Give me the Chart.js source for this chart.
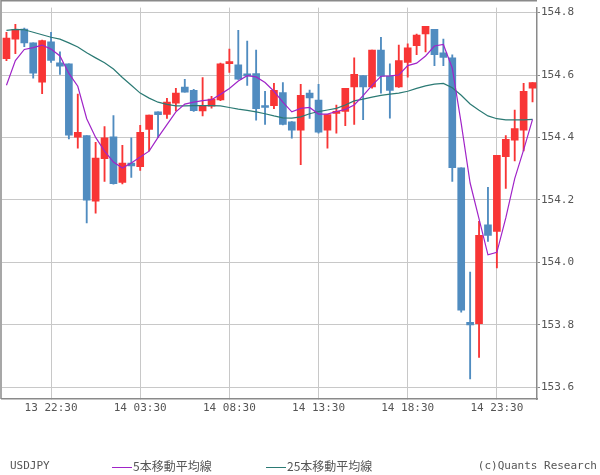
<!DOCTYPE html>
<html>
<head>
<meta charset="utf-8">
<script src="https://cdn.jsdelivr.net/npm/chart.js@4.4.1/dist/chart.umd.min.js"></script>
<style>
body { margin: 0; background: #fff; }
#wrap { position: relative; width: 600px; height: 475px; }
#chart { position: absolute; left: 0; top: 0; }
.foot { position: absolute; top: 458px; font: 11px "DejaVu Sans Mono", monospace; color: #555; white-space: nowrap; line-height: 16px; }
.jp { font-family: "Noto Sans CJK JP", sans-serif; font-size: 12px; }
.swatch { display: inline-block; width: 20px; height: 1px; vertical-align: middle; margin-right: 1px; }
</style>
</head>
<body>
<div id="wrap">
  <canvas id="chart" width="600" height="475"></canvas>
  <div class="foot" style="left:10px">USDJPY</div>
  <div class="foot jp" style="left:112px"><span class="swatch" style="background:#a024c8"></span>5本移動平均線</div>
  <div class="foot jp" style="left:266px"><span class="swatch" style="background:#2b7a74"></span>25本移動平均線</div>
  <div class="foot" style="right:3px">(c)Quants Research</div>
</div>
<script>
const categories = [
  '13 20:00','13 20:30','13 21:00','13 21:30','13 22:00','13 22:30','13 23:00','13 23:30',
  '14 00:00','14 00:30','14 01:00','14 01:30','14 02:00','14 02:30','14 03:00','14 03:30',
  '14 04:00','14 04:30','14 05:00','14 05:30','14 06:00','14 06:30','14 07:00','14 07:30',
  '14 08:00','14 08:30','14 09:00','14 09:30','14 10:00','14 10:30','14 11:00','14 11:30',
  '14 12:00','14 12:30','14 13:00','14 13:30','14 14:00','14 14:30','14 15:00','14 15:30',
  '14 16:00','14 16:30','14 17:00','14 17:30','14 18:00','14 18:30','14 19:00','14 19:30',
  '14 20:00','14 20:30','14 21:00','14 21:30','14 22:00','14 22:30','14 23:00','14 23:30',
  '15 00:00','15 00:30','15 01:00','15 01:30'
];
const tickLabels = ['13 22:30', '14 03:30', '14 08:30', '14 13:30', '14 18:30', '14 23:30'];
const yTicks = [153.6, 153.8, 154.0, 154.2, 154.4, 154.6, 154.8];
const yMin = 153.562, yMax = 154.816;

const opens = [
  154.652, 154.715, 154.747, 154.703, 154.577, 154.706, 154.639, 154.636, 154.401, 154.406,
  154.196, 154.332, 154.402, 154.256, 154.318, 154.306, 154.426, 154.482, 154.474, 154.510,
  154.561, 154.551, 154.485, 154.500, 154.520, 154.636, 154.633, 154.600, 154.605, 154.499,
  154.502, 154.544, 154.450, 154.423, 154.542, 154.520, 154.423, 154.477, 154.483, 154.562,
  154.598, 154.562, 154.680, 154.596, 154.562, 154.640, 154.694, 154.732, 154.746, 154.671,
  154.655, 154.303, 153.808, 153.803, 154.120, 154.099, 154.338, 154.391, 154.423, 154.558
];
const highs = [
  154.737, 154.762, 154.750, 154.703, 154.712, 154.737, 154.674, 154.636, 154.539, 154.406,
  154.384, 154.435, 154.470, 154.375, 154.399, 154.439, 154.472, 154.482, 154.525, 154.557,
  154.586, 154.554, 154.592, 154.532, 154.638, 154.683, 154.743, 154.709, 154.680, 154.548,
  154.573, 154.576, 154.451, 154.570, 154.552, 154.570, 154.474, 154.504, 154.557, 154.655,
  154.598, 154.680, 154.721, 154.636, 154.696, 154.700, 154.731, 154.756, 154.746, 154.715,
  154.665, 154.303, 153.969, 154.131, 154.240, 154.343, 154.406, 154.488, 154.573, 154.576
];
const lows = [
  154.646, 154.668, 154.691, 154.590, 154.540, 154.640, 154.602, 154.395, 154.366, 154.126,
  154.157, 154.259, 154.250, 154.251, 154.272, 154.294, 154.357, 154.399, 154.461, 154.485,
  154.545, 154.483, 154.469, 154.494, 154.518, 154.608, 154.586, 154.567, 154.455, 154.442,
  154.492, 154.440, 154.398, 154.313, 154.461, 154.414, 154.366, 154.414, 154.438, 154.442,
  154.457, 154.558, 154.542, 154.462, 154.560, 154.593, 154.665, 154.674, 154.630, 154.630,
  154.259, 153.840, 153.626, 153.695, 154.067, 153.982, 154.237, 154.325, 154.357, 154.514
];
const closes = [
  154.718, 154.746, 154.703, 154.606, 154.710, 154.647, 154.628, 154.407, 154.416, 154.199,
  154.334, 154.399, 154.252, 154.318, 154.309, 154.416, 154.472, 154.473, 154.513, 154.542,
  154.545, 154.486, 154.502, 154.523, 154.636, 154.643, 154.587, 154.597, 154.492, 154.496,
  154.551, 154.442, 154.423, 154.535, 154.527, 154.417, 154.473, 154.483, 154.557, 154.602,
  154.562, 154.680, 154.596, 154.551, 154.646, 154.687, 154.728, 154.756, 154.665, 154.656,
  154.303, 153.847, 153.799, 154.086, 154.086, 154.343, 154.394, 154.428, 154.548, 154.576
];
const ma5 = [
  154.567, 154.646, 154.682, 154.688, 154.696, 154.683, 154.661, 154.605, 154.564, 154.460,
  154.400, 154.356, 154.321, 154.302, 154.318, 154.337, 154.356, 154.400, 154.441, 154.482,
  154.507, 154.513, 154.518, 154.521, 154.538, 154.557, 154.581, 154.598, 154.594, 154.576,
  154.548, 154.513, 154.482, 154.493, 154.496, 154.475, 154.475, 154.483, 154.490, 154.504,
  154.534, 154.567, 154.596, 154.597, 154.600, 154.630, 154.638, 154.661, 154.693, 154.698,
  154.622, 154.445, 154.254, 154.139, 154.024, 154.032, 154.142, 154.268, 154.360, 154.458
];
const ma25 = [
  154.743, 154.746, 154.745, 154.737, 154.729, 154.721, 154.715, 154.703, 154.690, 154.671,
  154.655, 154.639, 154.619, 154.592, 154.567, 154.542, 154.526, 154.513, 154.506, 154.501,
  154.501, 154.502, 154.502, 154.502, 154.501, 154.496, 154.491, 154.487, 154.482, 154.476,
  154.469, 154.463, 154.462, 154.466, 154.476, 154.483, 154.488, 154.493, 154.504, 154.517,
  154.523, 154.529, 154.535, 154.539, 154.542, 154.548, 154.557, 154.565, 154.571, 154.573,
  154.559, 154.535, 154.507, 154.487, 154.469, 154.460, 154.456, 154.456, 154.456, 154.458
];

const UP = '#f83535', DOWN = '#508cc0';
const candleColors = opens.map((o, i) => closes[i] >= o ? UP : DOWN);
const tickFont = { family: 'DejaVu Sans Mono', size: 11 };

// frame on the left and top of the plot
const framePlugin = {
  id: 'frame',
  afterDraw(chart) {
    const { ctx, chartArea: a } = chart;
    ctx.save();
    ctx.strokeStyle = '#8a8a8a';
    ctx.lineWidth = 1.5;
    ctx.beginPath();
    ctx.moveTo(1, a.bottom);
    ctx.lineTo(1, 0.75);
    ctx.lineTo(a.right, 0.75);
    ctx.stroke();
    ctx.restore();
  }
};

new Chart(document.getElementById('chart'), {
  type: 'bar',
  data: {
    labels: categories,
    datasets: [
      { type: 'line', label: '5本移動平均線', data: ma5, borderColor: '#a024c8', borderWidth: 1.2, pointRadius: 0, tension: 0, order: 0 },
      { type: 'line', label: '25本移動平均線', data: ma25, borderColor: '#2b7a74', borderWidth: 1.2, pointRadius: 0, tension: 0, order: 1 },
      { label: 'body', data: opens.map((o, i) => [o, closes[i]]), backgroundColor: candleColors, barThickness: 7, minBarLength: 2, grouped: false, order: 2 },
      { label: 'wick', data: lows.map((l, i) => [l, highs[i]]), backgroundColor: candleColors, barThickness: 1.2, grouped: false, order: 3 }
    ]
  },
  options: {
    responsive: false,
    animation: false,
    layout: { padding: { top: 1, left: 2, right: 0, bottom: 0 } },
    plugins: { legend: { display: false }, tooltip: { enabled: false } },
    scales: {
      x: {
        offset: true,
        afterBuildTicks: s => { s.ticks = s.ticks.filter(t => tickLabels.includes(categories[t.value])); },
        afterFit: s => { s.height = 76; },
        ticks: { autoSkip: false, maxRotation: 0, font: tickFont, color: '#555', padding: 3 },
        grid: { offset: false, color: '#c8c8c8', tickLength: 0 },
        border: { color: '#8a8a8a', width: 1.5 }
      },
      y: {
        position: 'right',
        min: yMin,
        max: yMax,
        afterBuildTicks: s => { s.ticks = yTicks.map(v => ({ value: v })); },
        afterFit: s => { s.width = 63; },
        ticks: { callback: v => v.toFixed(1), font: tickFont, color: '#555', padding: 1 },
        grid: { color: '#c8c8c8', tickLength: 3, tickColor: '#8a8a8a' },
        border: { color: '#8a8a8a', width: 1.5 }
      }
    }
  },
  plugins: [framePlugin]
});
</script>
</body>
</html>
